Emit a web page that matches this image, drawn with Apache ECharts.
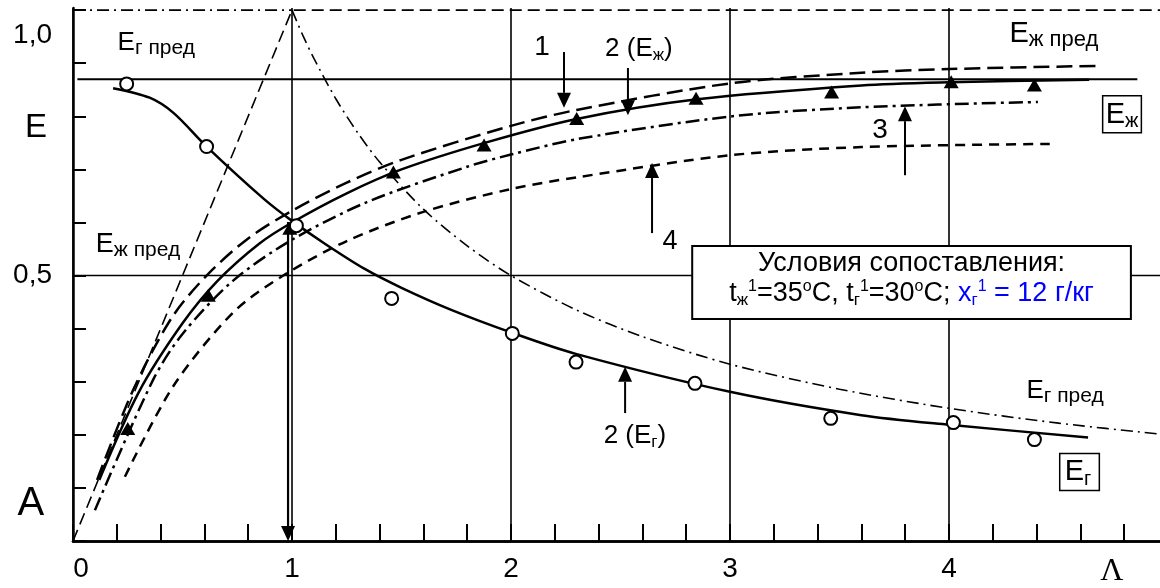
<!DOCTYPE html>
<html>
<head>
<meta charset="utf-8">
<script src="https://cdn.jsdelivr.net/npm/echarts@6/dist/echarts.min.js"></script>
<style>
  html, body { margin: 0; padding: 0; background: #fff; }
  #chart { width: 1160px; height: 588px; }
</style>
</head>
<body>
<div id="chart"></div>
<script>
// ---- tick labels ----
const xTickLabels = ['0', '1', '2', '3', '4'];          // Λ = 0 … 4
const yTickLabels = [[0.5, '0,5'], [1.0, '1,0']];

// ---- gas-side efficiency E_г ----
const gasPoints = [[0.245, 0.861], [0.61, 0.743], [1.02, 0.594], [1.455, 0.457], [2.006, 0.391],
                   [2.297, 0.337], [2.84, 0.297], [3.46, 0.231], [4.02, 0.223], [4.39, 0.191]];
const gasCurve = [[0.183, 0.853], [0.35, 0.835], [0.46, 0.806], [0.61, 0.743], [0.87, 0.645],
                  [1.0, 0.603], [1.15, 0.56], [1.33, 0.513], [1.5, 0.477], [1.73, 0.435],
                  [2.0, 0.393], [2.3, 0.352], [3.0, 0.281], [3.6, 0.237], [4.0, 0.219], [4.635, 0.195]];

// ---- liquid-side efficiency E_ж ----
const liqPoints = [[0.25, 0.212], [0.618, 0.463], [0.99, 0.589], [1.463, 0.695], [1.877, 0.746],
                   [2.30, 0.796], [2.845, 0.834], [3.464, 0.846], [4.01, 0.865], [4.39, 0.859]];
const curve2 = [[0.12, 0.115], [0.3, 0.28], [0.5, 0.41], [0.66, 0.49], [0.85, 0.56], [1.0, 0.60],
                [1.25, 0.655], [1.5, 0.70], [1.88, 0.75], [2.3, 0.795], [2.85, 0.832], [3.6, 0.858],
                [4.0, 0.864], [4.64, 0.869]];
const curve1 = [[0.11, 0.115], [0.274, 0.284], [0.45, 0.42], [0.61, 0.50], [0.8, 0.57], [1.0, 0.622],
                [1.25, 0.675], [1.5, 0.718], [2.0, 0.782], [2.3, 0.812], [3.0, 0.862], [3.6, 0.882],
                [4.0, 0.889], [4.676, 0.895]];
const curve3 = [[0.1, 0.058], [0.365, 0.303], [0.5, 0.39], [0.73, 0.49], [0.99, 0.565], [1.34, 0.638],
                [1.8, 0.705], [2.0, 0.728], [2.315, 0.758], [3.01, 0.800], [3.6, 0.817], [4.406, 0.827]];
const curve4 = [[0.237, 0.121], [0.457, 0.291], [0.73, 0.43], [0.96, 0.50], [1.25, 0.565], [1.6, 0.62],
                [2.0, 0.663], [2.315, 0.686], [3.01, 0.727], [3.6, 0.742], [4.46, 0.748]];

// ---- limiting values ----
const liqLimit = [[0, 0], [1, 1], [5, 1]];                 // E_ж пред
const gasLimitFlat = [[0, 1], [1, 1]];                     // E_г пред, Λ ≤ 1
const gasLimit = [[1, 1], [1.05, 0.952], [1.1, 0.909], [1.2, 0.833], [1.3, 0.769], [1.4, 0.714],
                  [1.6, 0.625], [1.8, 0.556], [2, 0.5], [2.3, 0.435], [2.6, 0.385], [3, 0.333],
                  [3.5, 0.286], [4, 0.25], [4.5, 0.222], [5, 0.2]];
const liqPlateau = [[0.02, 0.87], [4.86, 0.87]];
const halfLevel = [[0, 0.5], [5, 0.5]];

// ---------------------------------------------------------------
const FONT = "'Liberation Sans', Arial, sans-serif";
const BLACK = '#000';
const BLUE = '#0000ff';

function tok(size, extra) {
  return Object.assign({ fontSize: size, fontFamily: FONT, fill: BLACK }, extra || {});
}
// main text + subscript
function subRich(main, sub, lh) {
  return {
    m: tok(main, { lineHeight: lh }),
    s: tok(sub, { lineHeight: sub, verticalAlign: 'bottom' })
  };
}

// arrows: [Λ, E from, E to, line width]
const pointers = [
  [2.242, 0.921, 0.816, 2],
  [2.534, 0.891, 0.802, 2],
  [3.799, 0.689, 0.819, 2],
  [2.644, 0.580, 0.712, 2],
  [2.521, 0.241, 0.328, 2],
  [0.982, 0.601, 0.0, 2.2]
];

// text annotations centred at (Λ, E)
const notes = [
  { at: [-0.169, 0.778], text: '{m|E}', rich: { m: tok(33) } },
  { at: [-0.192, 0.070], text: '{m|A}', rich: { m: tok(40) } },
  { at: [0.38, 0.938], text: '{m|E}{s|г пред}', rich: subRich(26, 21, 32) },
  { at: [0.297, 0.558], text: '{m|E}{s|ж пред}', rich: subRich(27, 21, 32) },
  { at: [2.142, 0.930], text: '{m|1}', rich: { m: tok(28) } },
  { at: [2.584, 0.927], text: '{m|2 (E}{s|ж}{m|)}', rich: subRich(26, 17, 30) },
  { at: [3.685, 0.774], text: '{m|3}', rich: { m: tok(28) } },
  { at: [2.726, 0.565], text: '{m|4}', rich: { m: tok(27) } },
  { at: [2.566, 0.198], text: '{m|2 (E}{s|г}{m|)}', rich: subRich(26, 17, 30) },
  { at: [4.479, 0.955], text: '{m|E}{s|ж пред}', rich: subRich(29, 22, 34) },
  { at: [4.79, 0.804], text: '{m|E}{s|ж}', rich: subRich(29, 20, 34),
    box: { borderColor: BLACK, borderWidth: 1.5, padding: [2, 3, 1, 3] } },
  { at: [4.53, 0.283], text: '{m|E}{s|г пред}', rich: subRich(26, 21, 32) },
  { at: [4.596, 0.130], text: '{m|E}{s|г}', rich: subRich(29, 20, 34),
    box: { borderColor: BLACK, borderWidth: 1.5, padding: [2, 8, 1, 5] } },
  { at: [4.744, -0.057], text: '{m|Λ}', rich: { m: tok(32, { fontFamily: "'Liberation Serif', serif" }) } },
  { at: [3.829, 0.487],
    text: '{m|Условия сопоставления:}\n' +
          '{m|t}{sb|ж}{sp|1}{m|=35}{sp|o}{m|C, t}{sb|г}{sp|1}{m|=30}{sp|o}{m|C; }' +
          '{bm|x}{bsb|г}{bsp|1}{bm| = 12 г/кг}',
    rich: {
      m: tok(27, { lineHeight: 30 }),
      sb: tok(17, { lineHeight: 17, verticalAlign: 'bottom' }),
      sp: tok(16, { lineHeight: 16, verticalAlign: 'top' }),
      bm: tok(27, { lineHeight: 30, fill: BLUE }),
      bsb: tok(17, { lineHeight: 17, verticalAlign: 'bottom', fill: BLUE }),
      bsp: tok(16, { lineHeight: 16, verticalAlign: 'top', fill: BLUE })
    },
    box: { backgroundColor: '#fff', borderColor: BLACK, borderWidth: 2, padding: [2, 36, 9, 36] } }
];

function curveSeries(name, data, type, width, smooth) {
  return {
    name, type: 'line', data, showSymbol: false, silent: true,
    smooth: smooth === undefined ? 0.3 : smooth,
    lineStyle: { color: BLACK, width, type, cap: 'butt' }, z: 3
  };
}

const chart = echarts.init(document.getElementById('chart'), null, { renderer: 'canvas' });

chart.setOption({
  animation: false,
  backgroundColor: '#fff',
  grid: { left: 73, top: 8, width: 1095, height: 533, containLabel: false, outerBoundsMode: 'none' },
  xAxis: [{
    type: 'value', min: 0, max: 5, interval: 1,
    axisLine: { show: true, onZero: false, lineStyle: { color: BLACK, width: 2.5 } },
    axisTick: { show: true, inside: true, length: 17, lineStyle: { color: BLACK, width: 2 } },
    minorTick: { show: true, splitNumber: 5, length: 17, lineStyle: { color: BLACK, width: 2 } },
    splitLine: { show: true, lineStyle: { color: BLACK, width: 1.6 } },
    axisLabel: {
      margin: 14, color: BLACK, fontSize: 28, fontFamily: FONT,
      formatter: v => {
        const i = Math.round(v);
        if (Math.abs(v - i) > 1e-6 || i >= xTickLabels.length) return '';
        return i === 0 ? '{z|' + xTickLabels[i] + '}' : xTickLabels[i];
      },
      rich: { z: { fontSize: 28, fontFamily: FONT, color: BLACK, padding: [0, 0, 0, 16] } }
    }
  }, {
    type: 'value', position: 'top', min: 0, max: 5,
    axisLine: { show: true, lineStyle: { color: BLACK, width: 2.5 } },
    axisTick: { show: false }, axisLabel: { show: false }, splitLine: { show: false }
  }],
  yAxis: {
    type: 'value', min: 0, max: 1.004, interval: 0.1,
    axisLine: { show: true, onZero: false, lineStyle: { color: BLACK, width: 2.5 } },
    axisTick: { show: true, inside: true, length: 13, lineStyle: { color: BLACK, width: 2 } },
    splitLine: { show: false },
    axisLabel: {
      margin: 21, color: BLACK, fontSize: 28, fontFamily: FONT,
      showMaxLabel: false,
      formatter: v => {
        const hit = yTickLabels.find(t => Math.abs(t[0] - v) < 1e-6);
        if (!hit) return '';
        return hit[0] === 1 ? '{hi|' + hit[1] + '}' : hit[1];
      },
      rich: { hi: { fontSize: 28, fontFamily: FONT, color: BLACK, padding: [50, 0, 0, 0] } }
    }
  },
  series: [
    curveSeries('0,5', halfLevel, 'solid', 1.6, false),
    curveSeries('E_ж plateau', liqPlateau, 'solid', 2, false),
    curveSeries('E_ж пред', liqLimit, [12, 6], 1.6, false),
    curveSeries('E_г пред (Λ≤1)', gasLimitFlat, [12, 5, 2, 5], 1.6, false),
    curveSeries('E_г пред', gasLimit, [12, 5, 2, 5], 1.6, 0.3),
    curveSeries('1', curve1, [16, 7], 2.5),
    curveSeries('2 (E_ж)', curve2, 'solid', 2.5),
    curveSeries('3', curve3, [14, 5, 3, 5], 2.5),
    curveSeries('4', curve4, [10, 7], 2.5),
    curveSeries('2 (E_г)', gasCurve, 'solid', 2.5),
    {
      name: 'E_ж опыт', type: 'scatter', data: liqPoints, symbol: 'triangle', symbolSize: [15, 13],
      itemStyle: { color: BLACK, opacity: 1 }, silent: true, z: 5
    },
    {
      name: 'E_г опыт', type: 'scatter', data: gasPoints, symbol: 'circle', symbolSize: 13,
      itemStyle: { color: '#fff', borderColor: BLACK, borderWidth: 2, opacity: 1 }, silent: true, z: 5
    },
    {
      name: 'pointers', type: 'custom', silent: true, z: 6, clip: false,
      dimensions: ['x', 'y0', 'y1', 'w'],
      encode: { x: 0, y: [1, 2] },
      data: pointers,
      renderItem(params, api) {
        const x = api.value(0);
        const p0 = api.coord([x, api.value(1)]);
        const p1 = api.coord([x, api.value(2)]);
        const dir = p1[1] > p0[1] ? 1 : -1;
        const hh = 15, hw = 7;
        const base = p1[1] - dir * hh;
        return {
          type: 'group',
          children: [
            { type: 'line', shape: { x1: p0[0], y1: p0[1], x2: p1[0], y2: base },
              style: { stroke: BLACK, lineWidth: api.value(3) } },
            { type: 'polygon', shape: { points: [[p1[0], p1[1]], [p1[0] - hw, base], [p1[0] + hw, base]] },
              style: { fill: BLACK } }
          ]
        };
      }
    },
    {
      name: 'notes', type: 'custom', silent: true, z: 10, clip: false,
      dimensions: ['x', 'y', 'i'],
      encode: { x: 0, y: 1 },
      data: notes.map((n, i) => [n.at[0], n.at[1], i]),
      renderItem(params, api) {
        const n = notes[api.value(2)];
        const p = api.coord([api.value(0), api.value(1)]);
        return {
          type: 'text', x: p[0], y: p[1],
          style: Object.assign({ text: n.text, rich: n.rich, align: 'center', verticalAlign: 'middle',
                                 fontFamily: FONT, fill: BLACK }, n.box || {})
        };
      }
    }
  ]
});
</script>
</body>
</html>
